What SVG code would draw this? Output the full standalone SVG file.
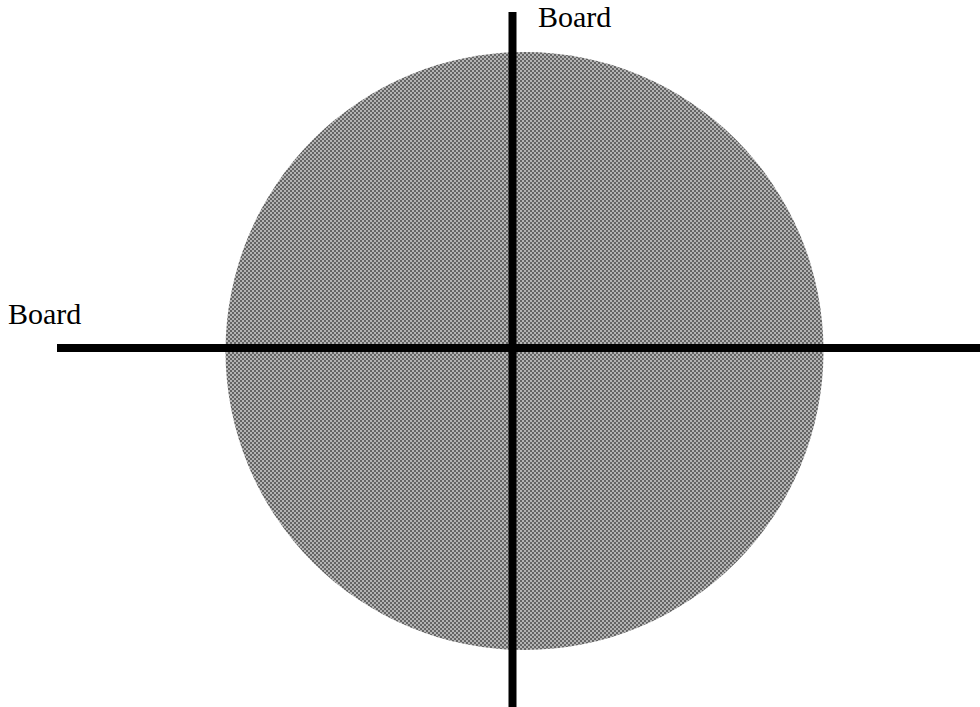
<svg xmlns="http://www.w3.org/2000/svg" width="980" height="707" viewBox="0 0 980 707">
<style>
.lbl{font-family:"Liberation Serif",serif;font-size:30px;fill:#000}
.bar{stroke:#000;stroke-width:8;fill:none}
</style>
<defs>
<pattern id="chk" x="0" y="0" width="4" height="4" patternUnits="userSpaceOnUse">
<rect width="4" height="4" fill="#b4b4b4"/>
<rect width="2" height="2" fill="#646464"/>
<rect x="2" y="2" width="2" height="2" fill="#646464"/>
</pattern>
</defs>
<rect width="980" height="707" fill="#fff"/>
<g id="disc"><circle cx="524.5" cy="351" r="299" fill="url(#chk)"/></g>
<g id="connectors">
<line class="bar" x1="512.5" y1="12" x2="512.5" y2="707"/>
<line class="bar" x1="57" y1="348" x2="980" y2="348"/>
</g>
<g id="labels">
<text class="lbl" x="538" y="27">Board</text>
<text class="lbl" x="8" y="324">Board</text>
</g>
</svg>
